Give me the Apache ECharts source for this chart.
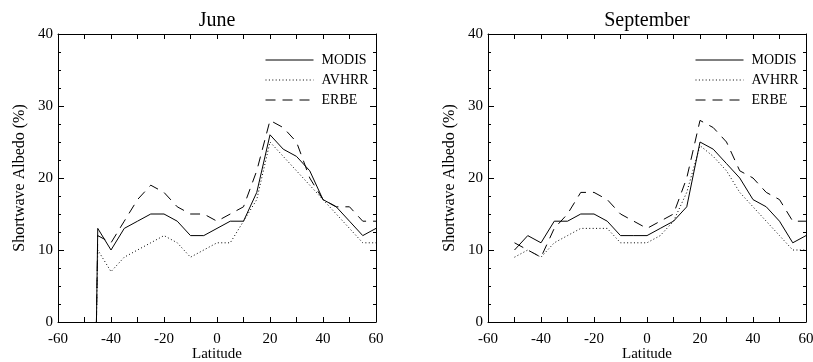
<!DOCTYPE html>
<html>
<head>
<meta charset="utf-8">
<script src="https://cdn.jsdelivr.net/npm/echarts@6/dist/echarts.min.js"></script>
<style>html,body{margin:0;padding:0;background:#fff}#c{width:813px;height:362px}</style>
</head>
<body>
<div id="c"></div>
<script>
// ---- data ----
const panelTitles = ['June', 'September'];
const seriesNames = ['MODIS', 'AVHRR', 'ERBE'];
const xTickLabels = ['-60', '-40', '-20', '0', '20', '40', '60'];
const yTickLabels = ['0', '10', '20', '30', '40'];

const juneLat   = [-45.5, -45, -40, -35, -30, -25, -20, -15, -10, -5, 0, 5, 10, 15, 20, 25, 30, 35, 40, 45, 50, 55, 60];
const juneModis = [0, 13, 10, 13, 14, 15, 15, 14, 12, 12, 13, 14, 14, 18, 26, 24, 23, 21, 17, 16, 14, 12, 13];
const juneAvhrr = [0, 10, 7, 9, 10, 11, 12, 11, 9, 10, 11, 11, 14, 17, 25, 23, 21, 19, 17, 15, 13, 11, 11];
const juneErbe  = [0, 12, 11, 14, 17, 19, 18, 16, 15, 15, 14, 15, 16, 21, 28, 27, 25, 20, 17, 16, 16, 14, 14];

const sepLat    = [-50, -45, -40, -35, -30, -25, -20, -15, -10, -5, 0, 5, 10, 15, 20, 25, 30, 35, 40, 45, 50, 55, 60];
const sepModis  = [10, 12, 11, 14, 14, 15, 15, 14, 12, 12, 12, 13, 14, 16, 25, 24, 22, 20, 17, 16, 14, 11, 12];
const sepAvhrr  = [9, 10, 9, 11, 12, 13, 13, 13, 11, 11, 11, 12, 14, 18, 24.5, 23, 21, 18, 16, 14, 12, 10, 10];
const sepErbe   = [11, 10, 9, 13, 15, 18, 18, 17, 15, 14, 13, 14, 15, 20, 28, 27, 25, 21, 20, 18, 17, 14, 14];

// ---- styling ----
const FONT = '"Liberation Serif", "DejaVu Serif", serif';
const lineTypes = { MODIS: 'solid', AVHRR: [1, 2.4], ERBE: [10, 7] };
const grids = [
  { left: 58, top: 34, width: 318, height: 288, outerBoundsMode: 'none', containLabel: false },
  { left: 488, top: 34, width: 318, height: 288, outerBoundsMode: 'none', containLabel: false }
];

function pairs(lat, vals) { return lat.map((x, i) => [x, vals[i]]); }

const xAxes = [], yAxes = [], series = [], titles = [], legends = [];
const panels = [
  { lat: juneLat, data: [juneModis, juneAvhrr, juneErbe] },
  { lat: sepLat, data: [sepModis, sepAvhrr, sepErbe] }
];

panels.forEach((p, g) => {
  const base = { gridIndex: g, type: 'value', min: -60, max: 60, interval: 20,
    axisLine: { show: true, onZero: false, lineStyle: { color: '#000', width: 1 } },
    splitLine: { show: false },
    axisTick: { show: true, inside: true, length: 5, lineStyle: { color: '#000' } },
    minorTick: { show: true, splitNumber: 2, length: 5, lineStyle: { color: '#000' } } };
  xAxes.push(Object.assign({}, base, {
    position: 'bottom',
    name: 'Latitude', nameLocation: 'middle', nameGap: 25, nameMoveOverlap: false,
    nameTextStyle: { fontFamily: FONT, fontSize: 15, color: '#000' },
    axisLabel: { fontFamily: FONT, fontSize: 15, color: '#000', margin: 10,
      formatter: v => xTickLabels[Math.round((v + 60) / 20)] }
  }));
  xAxes.push(Object.assign({}, base, { position: 'top', axisLabel: { show: false } }));
  const ybase = { gridIndex: g, type: 'value', min: 0, max: 40, interval: 10,
    axisLine: { show: true, onZero: false, lineStyle: { color: '#000', width: 1 } },
    splitLine: { show: false },
    axisTick: { show: true, inside: true, length: 6, lineStyle: { color: '#000' } },
    minorTick: { show: true, splitNumber: 4, length: 3, lineStyle: { color: '#000' } } };
  yAxes.push(Object.assign({}, ybase, {
    position: 'left',
    name: 'Shortwave Albedo (%)', nameLocation: 'middle', nameGap: 30, nameMoveOverlap: false,
    nameTextStyle: { fontFamily: FONT, fontSize: 16, color: '#000' },
    axisLabel: { fontFamily: FONT, fontSize: 15, color: '#000', margin: 5,
      formatter: v => yTickLabels[Math.round(v / 10)] }
  }));
  yAxes.push(Object.assign({}, ybase, { position: 'right', axisLabel: { show: false } }));

  seriesNames.forEach((name, k) => {
    series.push({
      name, type: 'line', xAxisIndex: g * 2, yAxisIndex: g * 2,
      data: pairs(p.lat, p.data[k]), symbol: 'none', silent: true, animation: false,
      lineStyle: { color: '#000', width: 1, type: lineTypes[name] },
      itemStyle: { color: '#000' }
    });
  });

  const gr = grids[g];
  titles.push({ text: panelTitles[g], left: gr.left + gr.width / 2, textAlign: 'center', top: 11, padding: 0,
    textStyle: { fontFamily: FONT, fontSize: 20, fontWeight: 'normal', color: '#000' } });
  legends.push({ data: seriesNames, orient: 'vertical', left: gr.left + 202, top: 48,
    itemWidth: 48, itemHeight: 14, itemGap: 6, selectedMode: false,
    itemStyle: { opacity: 0 },
    lineStyle: { width: 1 },
    textStyle: { fontFamily: FONT, fontSize: 14, color: '#000', padding: [0, 0, 0, 3] } });
});

const chart = echarts.init(document.getElementById('c'), null, { renderer: 'canvas' });
chart.setOption({
  animation: false,
  backgroundColor: '#fff',
  title: titles,
  legend: legends,
  grid: grids,
  xAxis: xAxes,
  yAxis: yAxes,
  series
});
</script>
</body>
</html>
